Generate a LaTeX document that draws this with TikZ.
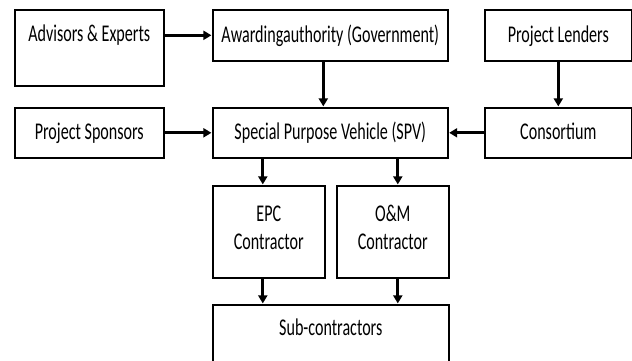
\documentclass[tikz,border=0pt]{standalone}
\usepackage{fontspec}
\setmainfont{Carlito}[FakeStretch=0.67]
\usetikzlibrary{arrows.meta}
\newcommand{\lbl}{\fontsize{24}{28}\selectfont}
\tikzset{
  panel/.style={draw=black, line width=1.6pt, inner sep=0pt, anchor=north west,
    align=center, font=\lbl, text=black},
  flow/.style={draw=black, line width=2.8pt,
    -{Triangle[length=8pt,width=9pt]}, shorten >=0.6pt}
}
\begin{document}
\begin{tikzpicture}[x=1pt,y=-1pt]
\useasboundingbox (0,0) rectangle (632,360);
\clip (0,0) rectangle (632,360);
\fill[white] (0,0) rectangle (632,360);

% top row
\node[panel, minimum width=149pt, text height=31.5pt, text depth=44.5pt] (adv) at (14,9) {Advisors \& Experts};
\node[panel, minimum width=235pt, text height=32.5pt, text depth=18.5pt] (award) at (212,9) {Awardingauthority (Government)};
\node[panel, minimum width=147pt, text height=32.5pt, text depth=18.5pt] (lend) at (484,9) {Project Lenders};

% middle row
\node[panel, minimum width=149pt, text height=32pt, text depth=18pt] (spons) at (14,107) {Project Sponsors};
\node[panel, minimum width=235pt, text height=32pt, text depth=18pt] (spv) at (212,107) {Special Purpose Vehicle (SPV)};
\node[panel, minimum width=147pt, text height=32pt, text depth=18pt] (cons) at (484,107) {Consortium};

% contractors (baseline of a two-line node sits on its last line)
\node[panel, minimum width=112pt, text height=63.5pt, text depth=28.5pt] (epc) at (212,185) {EPC\\Contractor};
\node[panel, minimum width=112pt, text height=63.5pt, text depth=28.5pt] (om) at (336,185) {O\&M\\Contractor};

% sub-contractors, running past the lower edge
\node[panel, minimum width=236pt, text height=31pt, text depth=45pt] (sub) at (212,304) {Sub-contractors};

% connectors
\draw[flow] (adv.east |- award.west) -- (award.west);
\draw[flow] ([xshift=-7pt]award.south) -- ([xshift=-7pt]spv.north);
\draw[flow] (lend.south) -- (cons.north);
\draw[flow] (spons.east) -- (spv.west);
\draw[flow] (cons.west) -- (spv.east);
\draw[flow] ([xshift=-6pt]spv.south -| epc.north) -- ([xshift=-6pt]epc.north);
\draw[flow] ([xshift=5pt]spv.south -| om.north) -- ([xshift=5pt]om.north);
\draw[flow] ([xshift=-6pt]epc.south) -- ([xshift=-6pt]epc.south |- sub.north);
\draw[flow] ([xshift=5pt]om.south) -- ([xshift=5pt]om.south |- sub.north);
\end{tikzpicture}
\end{document}
